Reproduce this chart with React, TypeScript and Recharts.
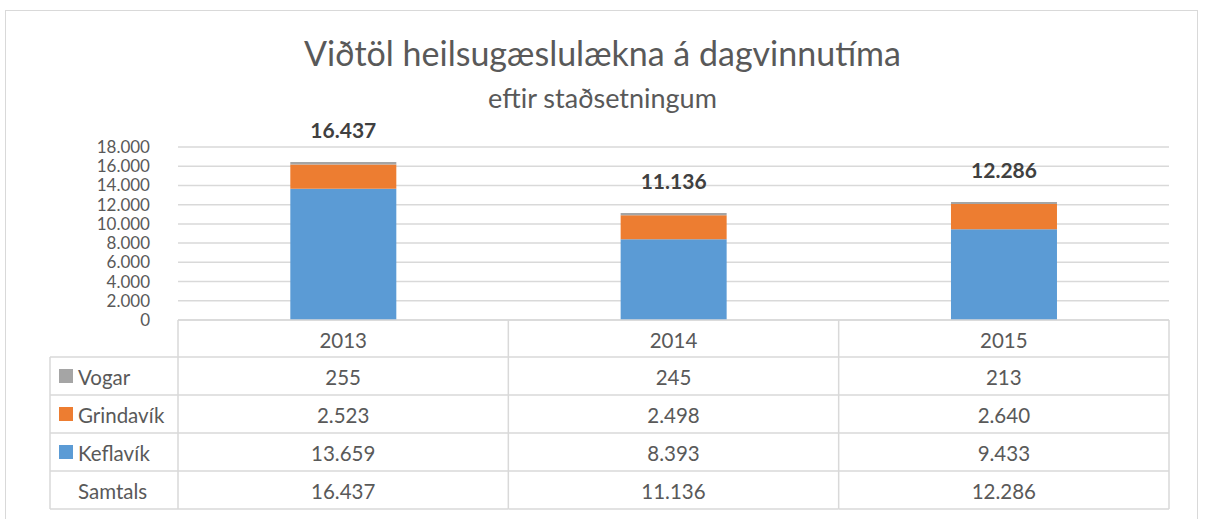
import React from "react";
import { BarChart, Bar, XAxis, YAxis, CartesianGrid, LabelList } from "recharts";

const years = ["2013", "2014", "2015"];
const keflavik = [13659, 8393, 9433];
const grindavik = [2523, 2498, 2640];
const vogar = [255, 245, 213];
const samtals = [16437, 11136, 12286];
const yTicks = [0, 2000, 4000, 6000, 8000, 10000, 12000, 14000, 16000, 18000];

const seriesRows = [
  { name: "Vogar", values: vogar, color: "#A5A5A5" },
  { name: "Grindavík", values: grindavik, color: "#ED7D31" },
  { name: "Keflavík", values: keflavik, color: "#5B9BD5" },
  { name: "Samtals", values: samtals, color: null as string | null },
];

const data = years.map((y, i) => ({
  year: y,
  keflavik: keflavik[i],
  grindavik: grindavik[i],
  vogar: vogar[i],
  total: samtals[i],
}));

const fmt = (n: number) => String(n).replace(/\B(?=(\d{3})+(?!\d))/g, ".");

const FONT = "Lato, 'Open Sans', sans-serif";
const TEXT = "#595959";
const LINE = "#D9D9D9";
const FS = 20.5;

const W = 1211;
const H = 519;
const X_H = 199;
const M = { top: 147, right: 42, bottom: 0, left: 0 };
const Y_W = 178;
const PLOT_W = W - M.left - M.right - Y_W;
const COL_W = PLOT_W / years.length;
const HEAD_H = 37;
const ROW_H = 38;
const LEFT_X = 50;

const TableColumn = (props: any) => {
  const { x, y, payload, index } = props;
  const top = y;
  const l = x - COL_W / 2;
  const r = x + COL_W / 2;
  const bottom = top + HEAD_H + ROW_H * seriesRows.length;
  const els: React.ReactNode[] = [];
  els.push(<line key="vl" x1={l} x2={l} y1={top} y2={bottom} stroke={LINE} strokeWidth={1.5} />);
  if (index === years.length - 1) {
    els.push(<line key="vr" x1={r} x2={r} y1={top} y2={bottom} stroke={LINE} strokeWidth={1.5} />);
  }
  els.push(
    <text key="h" x={x} y={top + HEAD_H / 2 + 1} textAnchor="middle" dominantBaseline="central" fill={TEXT} fontSize={FS} fontFamily={FONT}>
      {payload.value}
    </text>
  );
  seriesRows.forEach((s, ri) => {
    const rt = top + HEAD_H + ri * ROW_H;
    els.push(<line key={"h" + ri} x1={l} x2={r} y1={rt} y2={rt} stroke={LINE} strokeWidth={1.5} />);
    els.push(
      <text key={"t" + ri} x={x} y={rt + ROW_H / 2 + 1} textAnchor="middle" dominantBaseline="central" fill={TEXT} fontSize={FS} fontFamily={FONT}>
        {fmt(s.values[index])}
      </text>
    );
  });
  els.push(<line key="hb" x1={l} x2={r} y1={bottom} y2={bottom} stroke={LINE} strokeWidth={1.5} />);

  if (index === 0) {
    els.push(<line key="ll" x1={LEFT_X} x2={LEFT_X} y1={top + HEAD_H} y2={bottom} stroke={LINE} strokeWidth={1.5} />);
    seriesRows.forEach((s, ri) => {
      const rt = top + HEAD_H + ri * ROW_H;
      els.push(<line key={"lh" + ri} x1={LEFT_X} x2={l} y1={rt} y2={rt} stroke={LINE} strokeWidth={1.5} />);
      if (s.color) {
        els.push(<rect key={"lr" + ri} x={LEFT_X + 9} y={rt + ROW_H / 2 - 7} width={14} height={14} fill={s.color} />);
      }
      els.push(
        <text key={"lt" + ri} x={LEFT_X + 28} y={rt + ROW_H / 2 + 1} textAnchor="start" dominantBaseline="central" fill={TEXT} fontSize={FS} fontFamily={FONT}>
          {s.name}
        </text>
      );
    });
    els.push(<line key="lb" x1={LEFT_X} x2={l} y1={bottom} y2={bottom} stroke={LINE} strokeWidth={1.5} />);
  }
  return <g>{els}</g>;
};

export default function App() {
  return (
    <div style={{ position: "absolute", left: 0, top: 0, width: W, height: H, background: "#fff", fontFamily: FONT, overflow: "hidden" }}>
      <div style={{ position: "absolute", left: 5, top: 10, width: 1193, height: 530, border: `1.5px solid ${LINE}`, boxSizing: "border-box" }} />
      <div style={{ position: "absolute", left: 0, width: 1205, top: 31, textAlign: "center", fontSize: 34, color: TEXT, lineHeight: "44px" }}>
        Viðtöl heilsugæslulækna á dagvinnutíma
      </div>
      <div style={{ position: "absolute", left: 0, width: 1205, top: 81, textAlign: "center", fontSize: 27, color: TEXT, lineHeight: "34px" }}>
        eftir staðsetningum
      </div>
      <div style={{ position: "absolute", left: 0, top: 0 }}>
        <BarChart width={W} height={H} data={data} margin={M} barCategoryGap="34%">
          <CartesianGrid vertical={false} stroke={LINE} strokeWidth={1.5} />
          <YAxis
            width={Y_W}
            domain={[0, 18000]}
            ticks={yTicks}
            interval={0}
            axisLine={false}
            tickLine={false}
            tickMargin={22}
            tickFormatter={fmt}
            tick={{ fill: TEXT, fontSize: 17, fontFamily: FONT }}
          />
          <XAxis
            dataKey="year"
            height={X_H}
            axisLine={{ stroke: LINE, strokeWidth: 1.5 }}
            tickLine={false}
            tickSize={0}
            tickMargin={0}
            interval={0}
            tick={<TableColumn />}
          />
          <Bar dataKey="keflavik" stackId="a" fill="#5B9BD5" isAnimationActive={false} />
          <Bar dataKey="grindavik" stackId="a" fill="#ED7D31" isAnimationActive={false} />
          <Bar dataKey="vogar" stackId="a" fill="#A5A5A5" isAnimationActive={false}>
            <LabelList dataKey="total" position="top" offset={24} formatter={(v: any) => fmt(Number(v))} fill="#404040" fontSize={21} fontWeight="bold" fontFamily={FONT} />
          </Bar>
        </BarChart>
      </div>
    </div>
  );
}
